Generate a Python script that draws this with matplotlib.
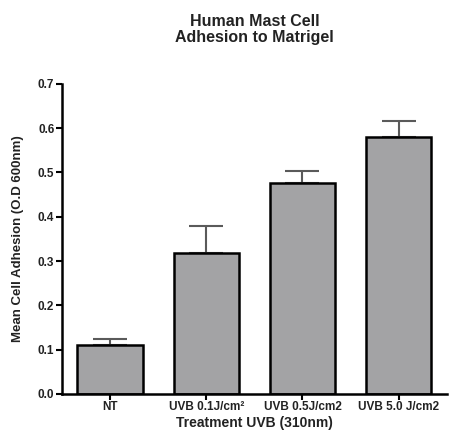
import matplotlib
matplotlib.use("Agg")
import matplotlib.pyplot as plt

categories = ["NT", "UVB 0.1J/cm\u00b2", "UVB 0.5J/cm2", "UVB 5.0 J/cm2"]
means = [0.111, 0.319, 0.476, 0.579]
errors = [0.013, 0.060, 0.028, 0.037]
yticks = [0.0, 0.1, 0.2, 0.3, 0.4, 0.5, 0.6, 0.7]

plt.rcParams['font.family'] = ['Liberation Sans', 'DejaVu Sans']
plt.rcParams['font.weight'] = 'bold'

fig = plt.figure(figsize=(4.51, 4.32), dpi=100)
ax = fig.add_axes([0.1375, 0.088, 0.853, 0.718])

x = list(range(len(categories)))
ax.bar(x, means, width=0.68, color="#a3a3a5", edgecolor="black", linewidth=1.8, zorder=2)
ax.errorbar(x, means, yerr=[[0]*len(errors), errors], fmt="none", ecolor="#5a5a5a",
            elinewidth=1.5, capsize=12, capthick=1.5, zorder=1)

ax.set_xlim(-0.5, 3.5)
ax.set_ylim(0, 0.7)
ax.set_yticks(yticks)
ax.set_yticklabels([f"{v:.1f}" for v in yticks])
ax.set_xticks(x)
ax.set_xticklabels(categories)

for s in ["top", "right"]:
    ax.spines[s].set_visible(False)
for s in ["left", "bottom"]:
    ax.spines[s].set_linewidth(1.8)
ax.tick_params(axis="y", width=1.5, length=4, labelsize=8.5, pad=1.5, labelcolor="#222222")
ax.tick_params(axis="x", width=1.5, length=4, labelsize=8.5, pad=1.0, labelcolor="#222222")

ax.set_ylabel("Mean Cell Adhesion (O.D 600nm)", fontsize=9.5, fontweight="bold", labelpad=10,
              color="#222222")
ax.set_xlabel("Treatment UVB (310nm)", fontsize=10, fontweight="bold", color="#222222")
ax.xaxis.set_label_coords(0.5, -0.071)
ax.set_title("Human Mast Cell\nAdhesion to Matrigel", fontsize=11.5, fontweight="bold", pad=30,
             color="#222222", linespacing=1.1)

fig.savefig("out.png", dpi=100)
